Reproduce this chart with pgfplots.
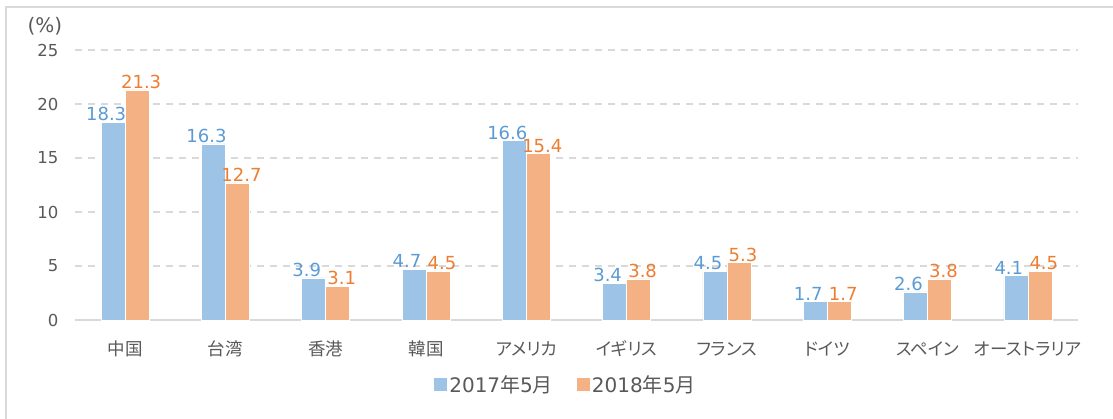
\documentclass[border=0pt]{standalone}
\usepackage{pgfplots}
\pgfplotsset{compat=1.18}
\usepackage{fontspec}
\setmainfont{DejaVu Sans}
\newfontfamily\jp[RawFeature=+palt]{Noto Sans CJK JP}
\newfontfamily\jpn{Noto Sans CJK JP}
\definecolor{barb}{HTML}{9DC3E6}
\definecolor{baro}{HTML}{F4B183}
\definecolor{labb}{HTML}{5B9BD5}
\definecolor{labo}{HTML}{ED7D31}
\definecolor{textc}{HTML}{595959}
\definecolor{gridc}{HTML}{D9D9D9}
\begin{document}
\begin{tikzpicture}[x=1pt,y=1pt]
\useasboundingbox (0,0) rectangle (1113,419);
\draw[color=gridc, line width=1.5pt] (6,0) -- (6,412) -- (1113,412);
\begin{axis}[
  at={(75pt,99pt)}, anchor=south west,
  scale only axis, width=1003pt, height=270pt,
  xmin=-0.5, xmax=9.5, ymin=0, ymax=25,
  ytick={0,5,10,15,20,25},
  xtick={0,1,2,3,4,5,6,7,8,9},
  xticklabels={中国,台湾,香港,韓国,アメリカ,イギリス,フランス,ドイツ,スペイン,オーストラリア},
  ybar=0pt, bar width=24pt,
  axis x line*=bottom, axis y line*=left,
  x axis line style={draw=gridc, line width=1.5pt},
  y axis line style={draw=none},
  major tick length=0pt,
  ymajorgrids,
  grid style={draw=gridc, line width=1.3pt, dash pattern=on 7pt off 6pt},
  /pgf/number format/assume math mode=true,
  yticklabel style={font=\fontsize{16.5}{19}\selectfont, text=textc, xshift=-13pt},
  xticklabel style={font=\jp\fontsize{17.5}{20}\selectfont, text=textc, yshift=-36pt,
     anchor=base, text height=13pt, text depth=3pt},
  nodes near coords,
  nodes near coords style={font=\fontsize{18}{21}\selectfont, inner sep=1pt,
     /pgf/number format/fixed, /pgf/number format/precision=1,
     /pgf/number format/fixed zerofill, /pgf/number format/assume math mode=true},
  legend style={at={(0.4895,-0.24)}, anchor=center, draw=none, fill=none,
     legend columns=2, font=\fontsize{20}{23}\selectfont, text=textc,
     /tikz/every even column/.append style={column sep=22pt}},
  legend image code/.code={\fill[#1,draw=none] (0pt,-6.5pt) rectangle (13pt,6.5pt);},
  clip=false,
]
\addplot[fill=barb, draw=white, line width=0.6pt,
  every node near coord/.append style={text=labb, xshift=-7pt}]
  coordinates {(0,18.3) (1,16.3) (2,3.9) (3,4.7) (4,16.6) (5,3.4) (6,4.5) (7,1.7) (8,2.6) (9,4.1)};
\addplot[fill=baro, draw=white, line width=0.6pt,
  every node near coord/.append style={text=labo, xshift=4pt}]
  coordinates {(0,21.3) (1,12.7) (2,3.1) (3,4.5) (4,15.4) (5,3.8) (6,5.3) (7,1.7) (8,3.8) (9,4.5)};
\legend{2017{\jpn 年}5{\jpn 月},2018{\jpn 年}5{\jpn 月}}
\node[font=\fontsize{20}{23}\selectfont, text=textc] at (rel axis cs:0,1) [xshift=-30pt, yshift=24pt] {(\%)};
\end{axis}
\end{tikzpicture}
\end{document}
